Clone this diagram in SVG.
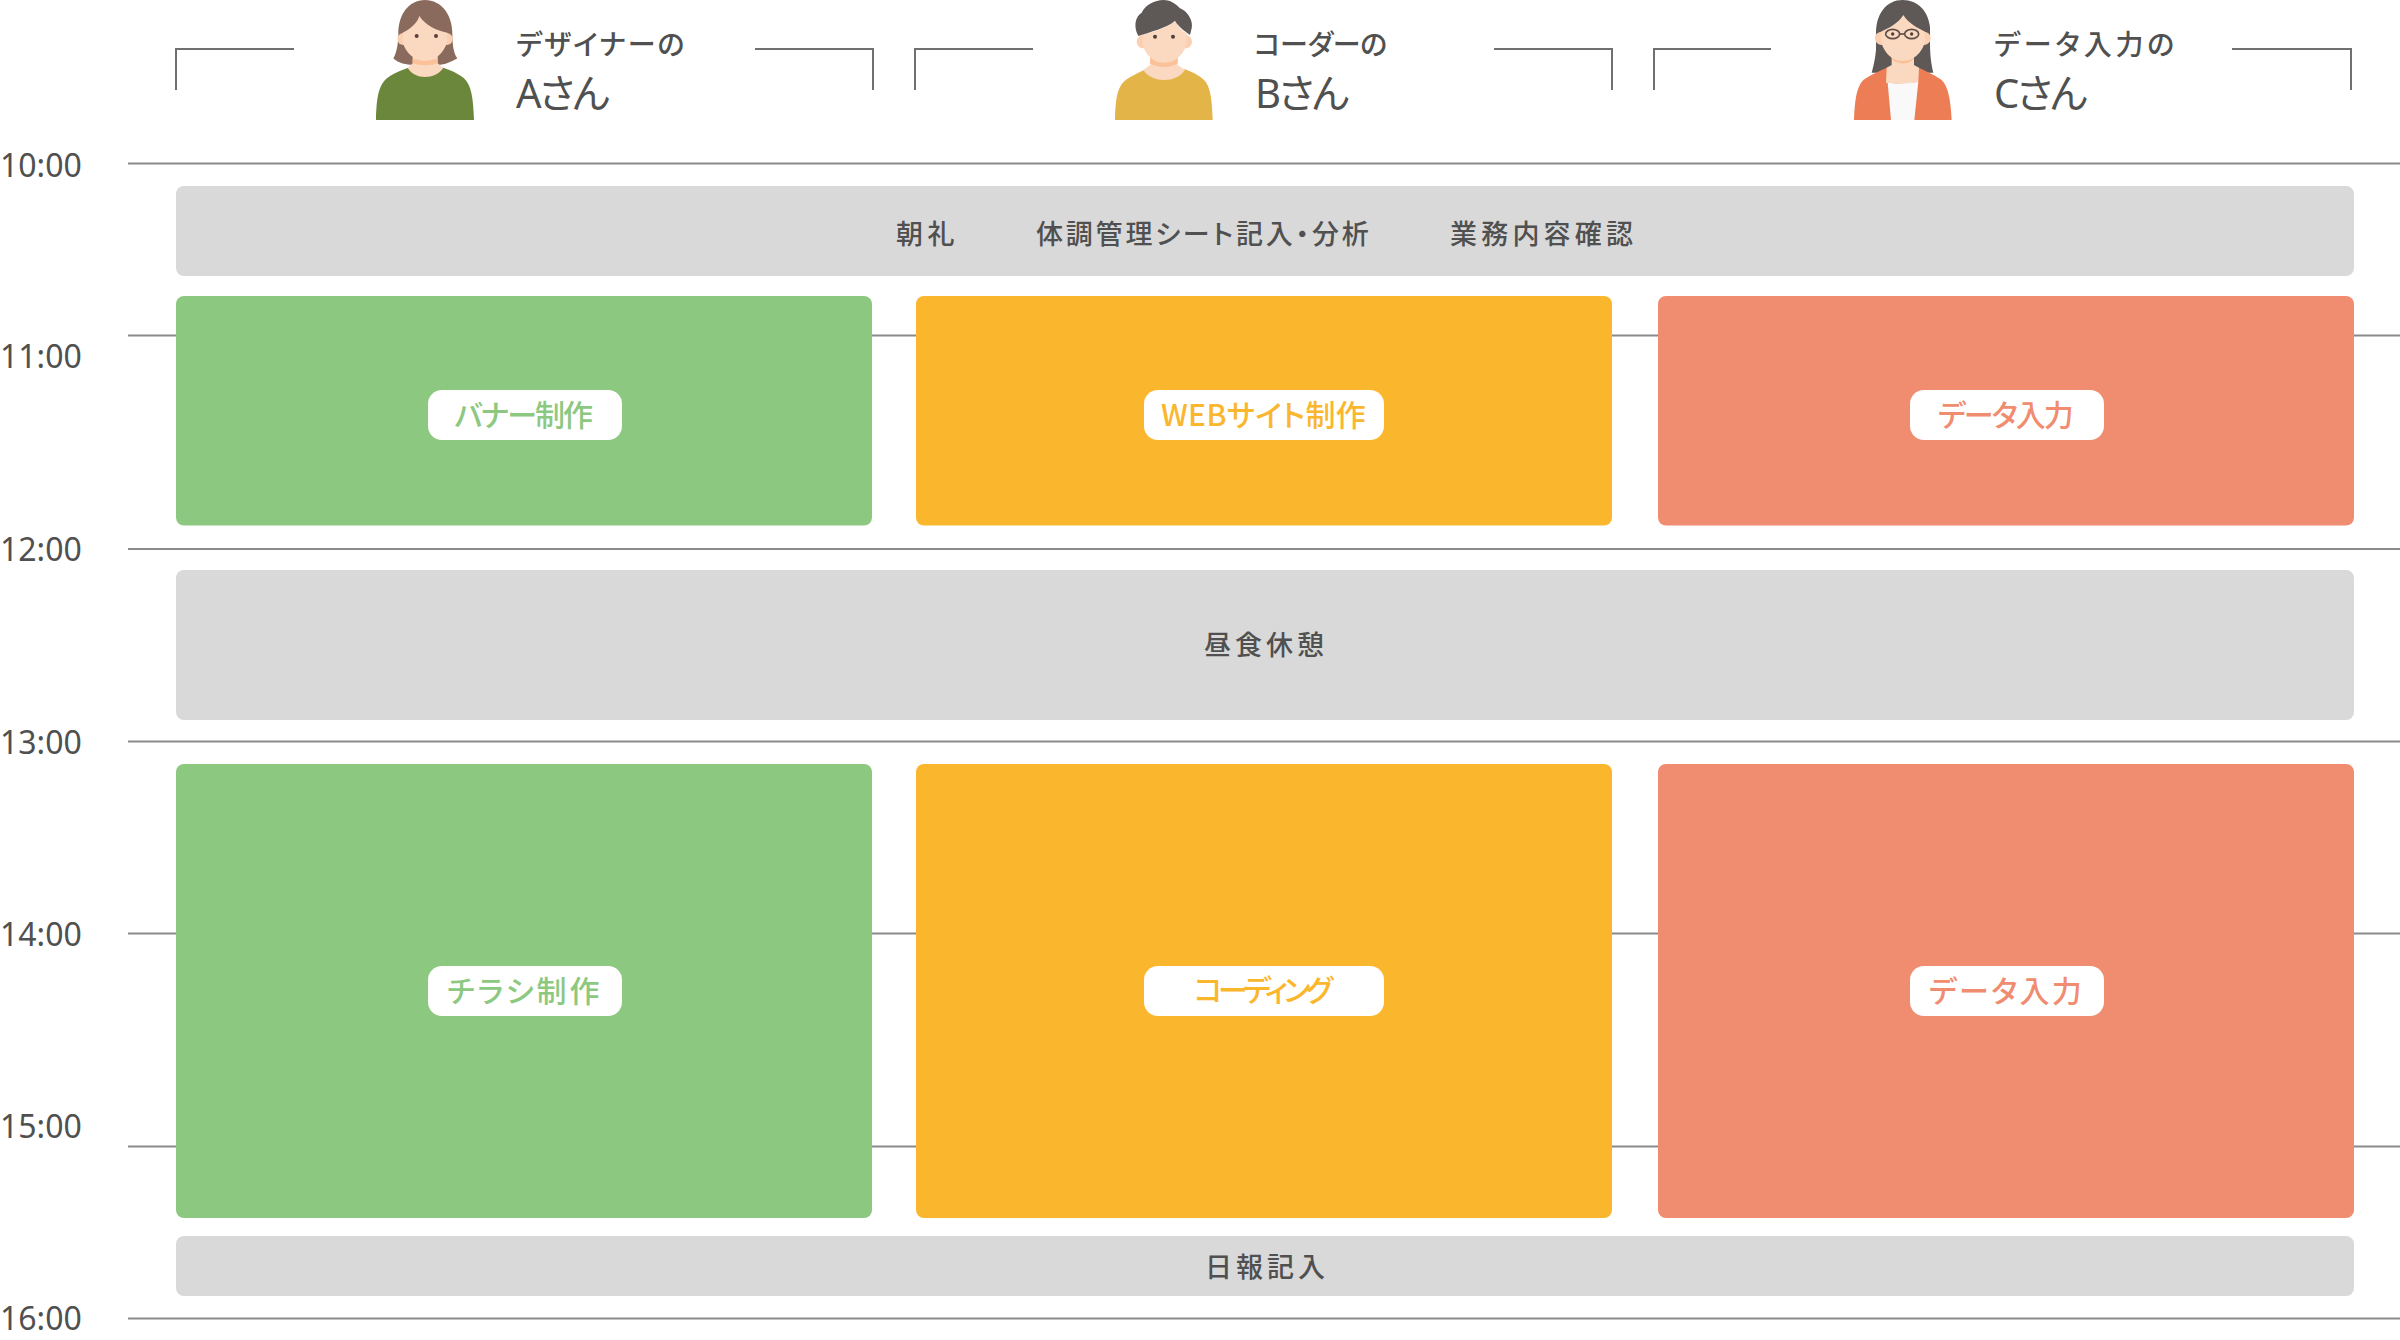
<svg xmlns="http://www.w3.org/2000/svg" width="2400" height="1340" viewBox="0 0 2400 1340">
<style>
text{font-family:"Noto Sans CJK JP","Noto Sans",sans-serif;fill:#505050;font-feature-settings:"palt"}
.t{font-family:"Noto Sans","Noto Sans CJK JP",sans-serif;font-size:32px}
.n{font-size:28px;font-weight:500}
.b{font-family:"Noto Sans","Noto Sans CJK JP",sans-serif;font-size:40px;letter-spacing:-2.500px}
.g{font-size:27px;font-weight:500}
.p{font-size:30px;font-weight:500}
.line{stroke:#8a8a8a;stroke-width:2;fill:none}
.br{stroke:#707070;stroke-width:2;fill:none}
.gray{fill:#d9d9d9}.green{fill:#8cc87f}.orange{fill:#fab72e}.red{fill:#f08c6f}
.pill{fill:#fff}
.skin{fill:#fbd8c0}.ear{fill:#fbcfb0}.shade{fill:#fbc199}
.gr{fill:#8cc87f}.or{fill:#fab72e}.rd{fill:#f08c6f}
</style>
<g id="connectors">
<path class="line" d="M128 163.500H2400M128 335.500H2400M128 549H2400M128 741.500H2400M128 933.500H2400M128 1146.500H2400M128 1318.500H2400"/>
<path class="br" d="M294 49H176V90M755 49H873V90M1033 49H915V90M1494 49H1612V90M1771 49H1654V90M2232 49H2351V90"/>
</g>
<g id="time-labels">
<text class="t" x="0" y="176.500">10:00</text>
<text class="t" x="0" y="368">11:00</text>
<text class="t" x="0" y="560.500">12:00</text>
<text class="t" x="0" y="753.500">13:00</text>
<text class="t" x="0" y="946">14:00</text>
<text class="t" x="0" y="1138">15:00</text>
<text class="t" x="0" y="1330">16:00</text>
</g>
<g id="person-a">
<g transform="translate(340,0) scale(.33333)">
<path fill="#8a6a5c" d="M255 0C205 0 175 45 175 100C175 130 170 160 160 175C175 190 200 195 218 195H293C315 195 335 185 352 175C340 160 337 130 337 100C337 45 305 0 255 0Z"/>
<path fill="#6b873c" d="M108 360C110 290 115 250 150 228C170 215 190 208 205 203H310C330 210 355 220 372 235C395 255 400 300 402 360Z"/>
<path class="skin" d="M218 165V190L203 204C225 240 285 240 310 204L293 190V165Z"/>
<path class="shade" d="M218 178V190C240 198 275 198 293 190V178Z"/>
<circle class="ear" cx="190" cy="117" r="18"/><circle class="ear" cx="320" cy="117" r="18"/>
<path class="skin" d="M188 98C210 88 232 70 238 48C255 75 290 92 322 98V120C318 150 290 183 255 183C220 183 190 150 188 120Z"/>
<circle fill="#5b3f3a" cx="230" cy="108" r="6"/><circle fill="#5b3f3a" cx="288" cy="108" r="6"/>
</g>
<text class="n" x="516" y="55" letter-spacing="2">デザイナーの</text>
<text class="b" x="516" y="108">Aさん</text>
</g>
<g id="person-b">
<g transform="translate(1080,0) scale(.33333)">
<path fill="#e3b447" d="M105 360C107 290 112 255 145 235C165 223 185 215 195 208H315C335 215 355 225 370 238C392 258 396 300 398 360Z"/>
<path class="skin" d="M210 165V195L190 210C215 250 290 250 315 210L293 195V165Z"/>
<path class="shade" d="M210 175V190C235 205 270 205 293 190V175Z"/>
<circle class="ear" cx="190" cy="125" r="20"/><circle class="ear" cx="316" cy="125" r="20"/>
<path class="skin" d="M188 100C215 98 260 85 285 62C295 80 305 92 320 100V125C318 155 290 188 252 188C215 188 190 155 187 125Z"/>
<path fill="#5e5857" d="M175 108C160 80 165 50 185 38C195 15 225 0 250 0C275 0 290 15 300 25C325 35 340 65 335 85L330 105C310 90 295 80 285 62C260 85 210 95 175 108Z"/>
<circle fill="#4d3f3a" cx="225" cy="110" r="6"/><circle fill="#4d3f3a" cx="279" cy="110" r="6"/>
</g>
<text class="n" x="1254" y="55" letter-spacing="-0.300">コーダーの</text>
<text class="b" x="1255" y="108">Bさん</text>
</g>
<g id="person-c">
<g transform="translate(1820,0) scale(.33333)">
<path fill="#5e5857" d="M248 0C200 0 168 40 168 100V150C165 180 160 200 155 218H340C335 200 330 170 330 130V80C325 35 295 0 248 0Z"/>
<path fill="#ed7d55" d="M102 360C104 300 110 260 130 240C150 225 180 212 200 203H297C315 212 345 225 365 240C385 260 392 300 395 360Z"/>
<path class="skin" d="M215 170V195L200 203L198 248C225 252 270 252 295 245L297 203L282 195V170Z"/>
<path fill="#f9f9f9" d="M203 248C230 252 270 250 295 245L283 360H213Z"/>
<path class="shade" d="M215 170V178C235 195 265 195 282 178V170Z"/>
<circle class="ear" cx="185" cy="115" r="20"/><circle class="ear" cx="312" cy="115" r="20"/>
<path class="skin" d="M183 95C205 85 235 70 250 45C265 70 295 85 315 95V120C312 150 285 183 248 183C212 183 187 150 183 120Z"/>
<ellipse cx="218" cy="102" rx="21" ry="14" fill="none" stroke="#5e4f4a" stroke-width="5"/>
<ellipse cx="275" cy="102" rx="21" ry="14" fill="none" stroke="#5e4f4a" stroke-width="5"/>
<path d="M239 102H254" stroke="#5e4f4a" stroke-width="5"/>
<circle fill="#4d3f3a" cx="218" cy="102" r="5"/><circle fill="#4d3f3a" cx="275" cy="102" r="5"/>
</g>
<text class="n" x="1994" y="55" letter-spacing="3.800">データ入力の</text>
<text class="b" x="1994" y="108">Cさん</text>
</g>
<g id="morning-meeting">
<rect class="gray" x="176" y="186" width="2178" height="90" rx="8"/>
<text class="g" x="896" y="244" letter-spacing="4.500">朝礼</text>
<text class="g" x="1036" y="244" letter-spacing="2.800">体調管理シート記入・分析</text>
<text class="g" x="1450" y="244" letter-spacing="4.200">業務内容確認</text>
</g>
<g id="a-banner"><rect class="green" x="176" y="296" width="696" height="229.500" rx="8"/><rect class="pill" x="428" y="390" width="194" height="50" rx="14"/><text class="p gr" x="454.500" y="426" letter-spacing="-2">バナー制作</text></g>
<g id="b-web"><rect class="orange" x="916" y="296" width="696" height="229.500" rx="8"/><rect class="pill" x="1144" y="390" width="240" height="50" rx="14"/><text class="p or" x="1161" y="426" letter-spacing=".300">WEBサイト制作</text></g>
<g id="c-data1"><rect class="red" x="1658" y="296" width="696" height="229.500" rx="8"/><rect class="pill" x="1910" y="390" width="194" height="50" rx="14"/><text class="p rd" x="1938" y="426" letter-spacing="-2">データ入力</text></g>
<g id="lunch">
<rect class="gray" x="176" y="570" width="2178" height="150" rx="8"/>
<text class="g" x="1204" y="655" letter-spacing="4">昼食休憩</text>
</g>
<g id="a-flyer"><rect class="green" x="176" y="764" width="696" height="454" rx="8"/><rect class="pill" x="428" y="966" width="194" height="50" rx="14"/><text class="p gr" x="447" y="1002" letter-spacing="3">チラシ制作</text></g>
<g id="b-coding"><rect class="orange" x="916" y="764" width="696" height="454" rx="8"/><rect class="pill" x="1144" y="966" width="240" height="50" rx="14"/><text class="p or" x="1194" y="1001" letter-spacing="-4.400">コーディング</text></g>
<g id="c-data2"><rect class="red" x="1658" y="764" width="696" height="454" rx="8"/><rect class="pill" x="1910" y="966" width="194" height="50" rx="14"/><text class="p rd" x="1929" y="1002" letter-spacing="2.200">データ入力</text></g>
<g id="daily-report">
<rect class="gray" x="176" y="1236" width="2178" height="60" rx="8"/>
<text class="g" x="1205" y="1277" letter-spacing="4">日報記入</text>
</g>
</svg>
